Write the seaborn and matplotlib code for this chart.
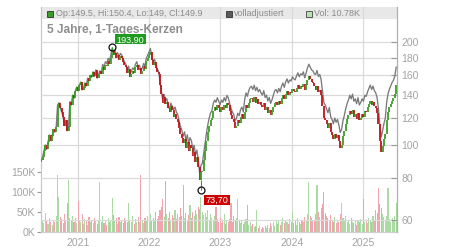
import numpy as np
import pandas as pd
import matplotlib
matplotlib.use("Agg")
import matplotlib.pyplot as plt
import matplotlib.dates as mdates
from matplotlib.patches import Rectangle
import seaborn as sns

# ---------------- data (weekly) ----------------
start_date = "2020-06-26"
first_open = 89.0
close = [
    90, 92, 96, 100, 97, 102, 107, 103, 106, 111,
    109, 113, 131, 133, 128, 125, 121, 114, 118, 110,
    113, 134, 131, 140, 137, 144, 148, 144, 150, 153,
    145, 147, 152, 149, 157, 154, 160, 158, 164, 159,
    166, 157, 161, 165, 162, 169, 166, 172, 170, 176,
    173, 180, 189, 184, 186, 180, 183, 177, 182, 180,
    175, 172, 169, 163, 167, 158, 161, 165, 163, 169,
    172, 166, 168, 161, 165, 170, 167, 176, 180, 184,
    188, 178, 172, 175, 168, 164, 161, 150, 141, 133,
    138, 132, 134, 128, 125, 130, 127, 121, 123, 119,
    117, 112, 108, 105, 101, 104, 98, 102, 96, 100,
    98, 93, 95, 89, 92, 86, 79, 83, 84, 90,
    96, 103, 109, 114, 118, 120, 126, 129, 127, 131,
    128, 125, 129, 127, 131, 128, 133, 131, 126, 122,
    119, 117, 112, 114, 118, 116, 121, 123, 119, 125,
    131, 128, 133, 136, 137, 134, 138, 133, 136, 132,
    134, 131, 129, 133, 127, 129, 124, 127, 122, 125,
    129, 133, 134, 131, 135, 132, 137, 140, 136, 141,
    144, 140, 143, 142, 146, 144, 143, 147, 150, 146,
    149, 148, 151, 145, 150, 155, 159, 156, 153, 152,
    149, 145, 149, 143, 145, 140, 130, 120, 118, 115,
    112, 116, 109, 107, 104, 108, 105, 107, 103, 98,
    100, 106, 110, 115, 119, 122, 126, 123, 127, 121,
    123, 119, 124, 118, 120, 123, 121, 126, 125, 129,
    132, 135, 131, 134, 130, 128, 124, 115, 103, 95,
    99, 104, 108, 118, 125, 129, 132, 135, 137, 141,
    149.9,
]
volume_k = [
    35, 30, 22, 48, 28, 20, 34, 25, 18, 30,
    24, 40, 142, 88, 38, 32, 22, 45, 30, 72,
    130, 35, 28, 40, 26, 34, 22, 77, 30, 25,
    45, 20, 33, 27, 18, 38, 24, 30, 22, 35,
    28, 20, 31, 126, 26, 40, 22, 30, 18, 36,
    25, 30, 84, 42, 28, 34, 20, 38, 24, 30,
    22, 36, 28, 26, 73, 30, 24, 40, 20, 32,
    26, 38, 24, 142, 30, 22, 35, 28, 40, 25,
    45, 30, 36, 28, 50, 33, 40, 55, 62, 82,
    38, 127, 45, 35, 50, 30, 42, 36, 55, 32,
    44, 38, 60, 40, 117, 35, 48, 30, 42, 67,
    36, 50, 40, 55, 45, 62, 58, 88, 50, 42,
    48, 38, 55, 30, 45, 36, 28, 40, 63, 32,
    26, 35, 22, 30, 45, 20, 28, 24, 33, 72,
    26, 40, 30, 35, 82, 28, 22, 30, 20, 25,
    32, 67, 18, 24, 15, 20, 12, 16, 55, 10,
    14, 8, 12, 9, 15, 11, 18, 10, 22, 14,
    25, 16, 30, 20, 28, 18, 24, 35, 22, 30,
    26, 20, 32, 24, 51, 22, 28, 18, 34, 25,
    20, 30, 24, 38, 28, 45, 126, 40, 35, 30,
    28, 45, 117, 50, 38, 60, 70, 101, 48, 40,
    35, 28, 42, 30, 25, 38, 22, 30, 26, 45,
    72, 35, 28, 40, 24, 30, 20, 34, 26, 22,
    30, 18, 28, 24, 32, 20, 82, 26, 30, 22,
    35, 28, 24, 40, 30, 55, 48, 109, 70, 60,
    45, 38, 30, 40, 109, 32, 26, 35, 28, 40,
    72,
]
# dividend adjustment steps of the "volladjustiert" line
adj_dates = ["2021-05-01", "2022-05-01", "2023-05-01", "2024-05-01", "2025-05-01"]
adj_factors = [1.02, 1.05, 1.085, 1.11, 1.13]

high_idx, high_val, high_label = 52, 193.90, "193,90"
low_idx, low_val, low_label = 117, 73.70, "73,70"

price_ticks = [60, 80, 100, 120, 140, 160, 180, 200]
vol_ticks = [0, 50, 100, 150]
vol_tick_labels = ["0K", "50K", "100K", "150K"]
year_ticks = ["2021", "2022", "2023", "2024", "2025"]

title = "5 Jahre, 1-Tages-Kerzen"
legend_ohlc = "Op:149.5, Hi:150.4, Lo:149, Cl:149.9"
legend_adj = "volladjustiert"
legend_vol = "Vol: 10.78K"

# ---------------- derived table ----------------
dates = pd.date_range(start_date, periods=len(close), freq="W-FRI")
df = pd.DataFrame({"date": dates, "close": close, "volume": np.array(volume_k) * 1000.0})
df["open"] = [first_open] + close[:-1]
df["up"] = df["close"] >= df["open"]
factor = np.ones(len(df))
for d, f in zip(adj_dates, adj_factors):
    factor[df["date"] >= pd.Timestamp(d)] = f
df["adj"] = df["close"] * factor

# ---------------- styling ----------------
sns.set_theme(style="white")
plt.rcParams["font.family"] = ["Liberation Sans", "DejaVu Sans"]

GREEN = "#3a9e26"
RED = "#c0121a"
VGREEN = "#a9dba2"
VRED = "#f2a3ab"
GRID = "#dadada"
TXT = "#a3a3a3"

W, H = 450, 250
fig = plt.figure(figsize=(4.5, 2.5), dpi=100)
L, R, T, B = 41, 397, 7, 232
ax_vol = fig.add_axes([L / W, 1 - B / H, (R - L) / W, (B - T) / H])
ax = ax_vol.twinx()

# volume bars
vcolors = [VGREEN if u else VRED for u in df["up"]]
ax_vol.bar(df["date"], df["volume"], width=5.5, color=vcolors, linewidth=0, zorder=2)
ax_vol.set_ylim(0, 562500)
ax_vol.set_yticks([v * 1000 for v in vol_ticks])
ax_vol.set_yticklabels(vol_tick_labels)

x0 = pd.Timestamp("2020-06-25")
x1 = pd.Timestamp("2025-06-24")
ax_vol.set_xlim(x0, x1)
ax_vol.set_xticks([pd.Timestamp(y + "-01-01") for y in year_ticks])
ax_vol.set_xticklabels(year_ticks)
ax_vol.set_axisbelow(True)
ax_vol.grid(True, axis="x", color=GRID, lw=0.9)
ax_vol.grid(False, axis="y")

# legend band
ax_vol.add_patch(Rectangle((0, 1 - 12 / 225), 1, 12 / 225, transform=ax_vol.transAxes,
                           facecolor="#e8e8e8", edgecolor="none", zorder=0.3))

# price axis
ax.set_yscale("log")
ax.set_ylim(55.5, 254)
ax.set_yticks(price_ticks)
ax.set_yticklabels([str(p) for p in price_ticks])
ax.yaxis.set_minor_locator(matplotlib.ticker.NullLocator())
ax.grid(True, axis="y", color=GRID, lw=0.9, zorder=0)
ax.set_xlim(x0, x1)

sns.lineplot(data=df, x="date", y="adj", color="#7a7a7a", lw=0.95, ax=ax, zorder=3)
ax.set_xlabel("")
ax.set_ylabel("")

ccolors = [GREEN if u else RED for u in df["up"]]
lo = np.minimum(df["open"], df["close"])
hi = np.maximum(df["open"], df["close"])
ax.vlines(df["date"], lo, hi, colors=ccolors, lw=1.3, zorder=4)

# extremes
dh = df["date"][high_idx]
dl = df["date"][low_idx]
ax.vlines([dh], [hi[high_idx]], [high_val], colors=[ccolors[high_idx]], lw=0.8, zorder=4)
ax.vlines([dl], [low_val], [lo[low_idx]], colors=[ccolors[low_idx]], lw=0.8, zorder=4)
ax.plot([dh, dl], [high_val, low_val], "o", ms=5, mfc="none", mec="#111111", mew=0.9, zorder=5)

# label boxes placed in pixel space relative to the markers
def label_box(date, val, text, color, dy_top, height, width):
    mx, my = ax.transData.transform((mdates.date2num(date), val))
    left = mx + 3
    top = my + dy_top
    fig.patches.append(Rectangle((left, top - height), width, height, transform=None,
                                 facecolor=color, edgecolor="none", zorder=6))
    fig.text((left + width / 2) / W, (top - height / 2) / H, text, color="white",
             fontsize=6.6, ha="center", va="center_baseline", zorder=7)

label_box(dh, high_val, high_label, "#1f9c1f", 12.5, 10, 31)
label_box(dl, low_val, low_label, "#cc0000", -4.7, 10, 26)

# spines & ticks
for a in (ax, ax_vol):
    a.spines["top"].set_visible(False)
ax.spines["left"].set_visible(False)
ax.spines["bottom"].set_visible(False)
ax.spines["right"].set_color("#b0b0b0")
ax.spines["right"].set_linewidth(0.9)
ax_vol.spines["right"].set_visible(False)
ax_vol.spines["left"].set_color("#c8c8c8")
ax_vol.spines["left"].set_linewidth(0.9)
ax_vol.spines["bottom"].set_color("#d0d0d0")
ax_vol.spines["bottom"].set_linewidth(0.9)

ax.tick_params(axis="y", which="major", direction="in", length=4, width=0.8, color="#9a9a9a",
               labelsize=7.5, labelcolor=TXT, pad=3)
ax_vol.tick_params(axis="y", direction="out", length=3, width=0.8, color="#9a9a9a",
                   labelsize=7.5, labelcolor=TXT, pad=1)
ax_vol.tick_params(axis="x", length=0, labelsize=7.5, labelcolor=TXT, pad=4)

# legend row and title (pixel positions)
def fx(px):
    return px / W

def fy(py):
    return 1 - py / H

fig.patches.append(Rectangle((fx(47), fy(16.5)), 6 / W, 6 / H, transform=fig.transFigure,
                             facecolor=GREEN, edgecolor="#333333", lw=0.6))
fig.text(fx(56), fy(13.6), legend_ohlc, fontsize=6.5, color="#8c8c8c", va="center", ha="left")
fig.patches.append(Rectangle((fx(226), fy(16.5)), 6 / W, 6 / H, transform=fig.transFigure,
                             facecolor="#5a5a5a", edgecolor="#333333", lw=0.6))
fig.text(fx(234), fy(13.6), legend_adj, fontsize=6.5, color="#8c8c8c", va="center", ha="left")
fig.patches.append(Rectangle((fx(306), fy(16.5)), 6 / W, 6 / H, transform=fig.transFigure,
                             facecolor="#b8e2b2", edgecolor="#444444", lw=0.6))
fig.text(fx(314), fy(13.6), legend_vol, fontsize=6.5, color="#8c8c8c", va="center", ha="left")

fig.text(fx(47), fy(29.5), title, fontsize=8.6, fontweight="bold", color="#8e8e8e",
         va="center", ha="left")

fig.savefig("out.png", dpi=100)
